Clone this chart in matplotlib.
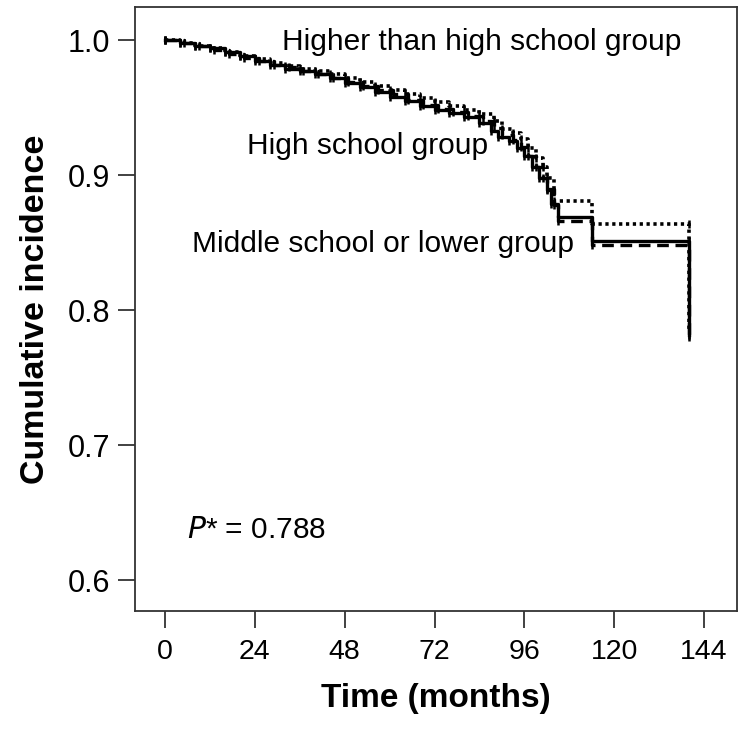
import matplotlib
matplotlib.use("Agg")
import matplotlib.pyplot as plt

plt.rcParams['font.family'] = ['Liberation Sans', 'DejaVu Sans']

# Step data (time in months, cumulative value after step)
t_high = [0, 4, 8, 12, 16, 20, 24, 28, 32, 36, 40, 44, 48, 52, 56, 60, 64, 68, 72,
          76, 80, 84, 87, 89, 92, 94, 96, 98, 100, 102, 103, 105, 114, 140, 140]
s_high = [1.0, 0.998, 0.996, 0.994, 0.991, 0.988, 0.985, 0.982, 0.979, 0.977, 0.975,
          0.972, 0.968, 0.965, 0.962, 0.958, 0.955, 0.951, 0.948, 0.946, 0.943, 0.939,
          0.933, 0.928, 0.925, 0.920, 0.914, 0.906, 0.898, 0.889, 0.879, 0.869, 0.851,
          0.851, 0.782]

t_mid = [0, 5, 9, 13, 17, 21, 25, 29, 33, 37, 41, 45, 49, 53, 57, 61, 65, 69, 73,
         77, 81, 85, 88, 90, 93, 95, 97, 99, 101, 102, 104, 105, 114, 140, 140]
s_mid = [1.0, 0.998, 0.996, 0.993, 0.990, 0.987, 0.985, 0.982, 0.980, 0.977, 0.975,
         0.972, 0.969, 0.966, 0.963, 0.960, 0.956, 0.952, 0.949, 0.947, 0.944, 0.940,
         0.935, 0.930, 0.926, 0.921, 0.914, 0.906, 0.898, 0.890, 0.878, 0.866, 0.848,
         0.848, 0.780]

t_higher = [0, 4, 8, 12, 16, 20, 24, 28, 32, 36, 40, 44, 48, 52, 56, 60, 64, 68, 72,
            76, 80, 84, 88, 90, 93, 95, 97, 99, 101, 102, 104, 114, 140, 140]
s_higher = [1.0, 0.998, 0.996, 0.994, 0.991, 0.988, 0.986, 0.983, 0.981, 0.979, 0.977,
            0.975, 0.972, 0.969, 0.966, 0.963, 0.960, 0.957, 0.954, 0.951, 0.948, 0.945,
            0.940, 0.934, 0.931, 0.927, 0.920, 0.913, 0.906, 0.898, 0.881, 0.864,
            0.864, 0.785]

x_ticks = [0, 24, 48, 72, 96, 120, 144]
y_ticks = [0.6, 0.7, 0.8, 0.9, 1.0]
y_tick_labels = ["0.6", "0.7", "0.8", "0.9", "1.0"]

labels = ["Higher than high school group", "High school group", "Middle school or lower group"]
p_text = "0.788"

fig = plt.figure(figsize=(7.38, 7.32), dpi=100)
ax = fig.add_axes([0.183, 0.165, 0.8156, 0.825])

ax.step(t_mid, s_mid, where='post', color='black', lw=2.4, linestyle=(0, (3.5, 2)),
        marker='|', markersize=6, markeredgewidth=1.8)
ax.step(t_higher, s_higher, where='post', color='black', lw=2.6, linestyle=(0, (0.9, 1.0)),
        marker='|', markersize=6, markeredgewidth=1.8)
ax.step(t_high, s_high, where='post', color='black', lw=2.4, linestyle='-',
        marker='|', markersize=6, markeredgewidth=1.8)

ax.set_xlim(-8, 152.8)
ax.set_ylim(0.577, 1.0244)
ax.set_xticks(x_ticks)
ax.set_xticklabels([str(v) for v in x_ticks])
ax.set_yticks(y_ticks)
ax.set_yticklabels(y_tick_labels)
ax.tick_params(axis='x', labelsize=20.5, length=12, width=1.3, color='#333333', pad=8)
ax.tick_params(axis='y', labelsize=22, length=12, width=1.3, color='#333333', pad=6)
for sp in ax.spines.values():
    sp.set_linewidth(1.3)
    sp.set_color('#333333')

ax.set_xlabel("Time (months)", fontsize=24, fontweight='bold', labelpad=13)
ax.set_ylabel("Cumulative incidence", fontsize=24.5, fontweight='bold', labelpad=12)

ax.text(31.3, 0.9985, labels[0], fontsize=21.5, va='center', ha='left')
ax.text(21.9, 0.922, labels[1], fontsize=21.5, va='center', ha='left')
ax.text(7.2, 0.849, labels[2], fontsize=21.5, va='center', ha='left')
ax.text(5.9, 0.637, r"$\it{P}$* = " + p_text, fontsize=21.5, va='center', ha='left')

fig.savefig("out.png", dpi=100)
